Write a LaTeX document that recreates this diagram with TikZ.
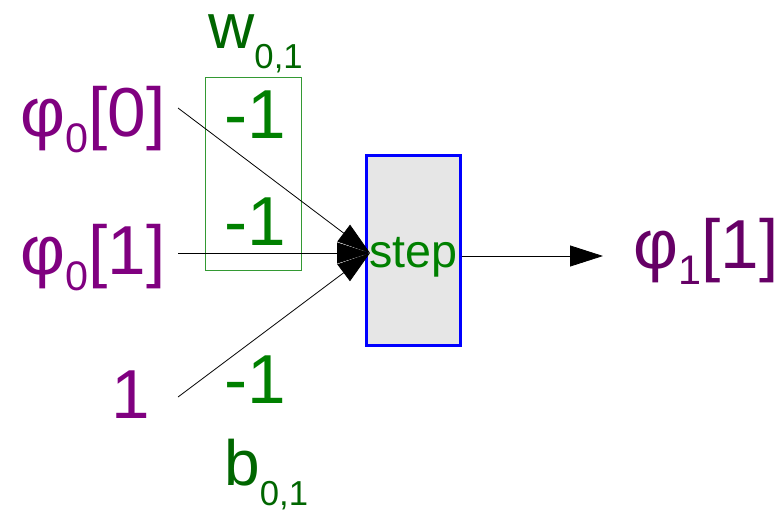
\documentclass[tikz,border=0pt]{standalone}
\usepackage{fontspec}
\setmainfont{Liberation Sans}
\usetikzlibrary{arrows.meta}
\definecolor{phiviolet}{RGB}{128,0,128}
\definecolor{phidark}{RGB}{102,0,102}
\definecolor{wgreen}{RGB}{0,128,0}
\definecolor{labgreen}{RGB}{0,102,0}
\definecolor{boxgreen}{RGB}{51,153,51}
\definecolor{stepfill}{RGB}{230,230,230}
\newcommand{\lowsub}[1]{\raisebox{-12pt}{\fontsize{31}{31}\selectfont #1}}
\newcommand{\idx}[1]{\raisebox{-15pt}{\fontsize{26}{26}\selectfont #1}}

\begin{document}
\begin{tikzpicture}[
    x=0.75pt, y=-0.75pt,
    inval/.style={
        text=phiviolet,
        font=\fontsize{52}{60}\selectfont,
        inner sep=0pt,
        anchor=base west
    },
    weight/.style={
        text=wgreen,
        font=\fontsize{52}{60}\selectfont,
        inner sep=0pt,
        anchor=base west
    },
    param/.style={
        text=labgreen,
        font=\fontsize{48}{56}\selectfont,
        inner sep=0pt,
        anchor=base west
    },
    stepbox/.style={
        draw=blue,
        line width=2.25pt,
        fill=stepfill,
        minimum width=70.5pt,
        minimum height=142.5pt,
        inner sep=0pt,
        text=wgreen,
        font=\fontsize{35}{40}\selectfont,
        text height=24.75pt,
        text depth=0pt
    },
    wire/.style={
        -{Triangle[length=24.75pt,width=15.75pt]},
        line width=0.6pt
    }
]
\useasboundingbox (0,0) rectangle (778,510);

% weights
\draw[draw=boxgreen, line width=0.75pt] (205,78) rectangle (301,270);
\node[param] (wlab) at (208,49) {w\idx{0,1}};
\node[weight] (w0) at (224,138) {-1};
\node[weight] (w1) at (224,245) {-1};
\node[weight] (bval) at (224,403) {-1};
\node[param] (blab) at (224,485) {b\idx{0,1}};

% inputs
\node[inval] (in0) at (20,137) {φ\lowsub{0}[0]};
\node[inval] (in1) at (20,274) {φ\lowsub{0}[1]};
\node[inval] (one) at (111,418) {1};

\coordinate (s0) at (178,108);
\coordinate (s1) at (178,253);
\coordinate (s2) at (178,397);
\coordinate (join) at (370,253);

\node[stepbox] (step) at (413.5,250.5) {step};

\draw[wire] (s0) -- (join);
\draw[wire] (s1) -- (join);
\draw[wire] (s2) -- (join);

% output
\coordinate (o1) at (462,256);
\coordinate (o2) at (603,256);
\node[inval, text=phidark] (out) at (633,268) {φ\lowsub{1}[1]};
\draw[wire] (o1) -- (o2);

\end{tikzpicture}
\end{document}
